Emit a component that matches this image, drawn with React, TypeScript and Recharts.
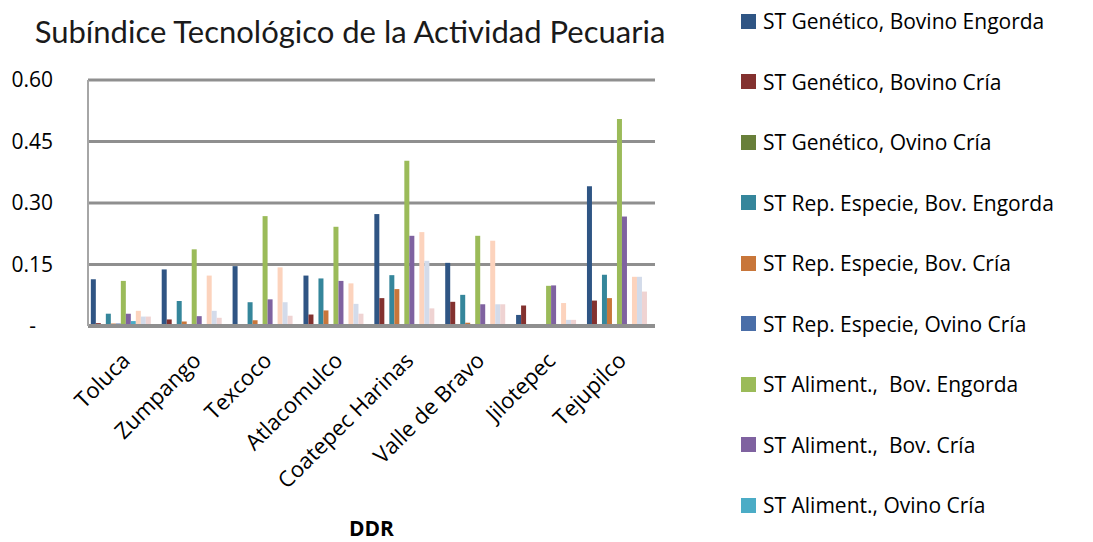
import React from 'react';
import {
    BarChart,
    Bar,
    XAxis,
    YAxis,
    CartesianGrid,
    Label,
} from 'recharts';

const categories = [
    'Toluca',
    'Zumpango',
    'Texcoco',
    'Atlacomulco',
    'Coatepec Harinas',
    'Valle de Bravo',
    'Jilotepec',
    'Tejupilco',
];

const genBovEngorda = [0.114, 0.138, 0.146, 0.123, 0.273, 0.154, 0.027, 0.341];
const genBovCria = [0.007, 0.016, 0.004, 0.028, 0.068, 0.059, 0.05, 0.062];
const genOviCria = [0.002, 0.002, 0.002, 0.002, 0.002, 0.002, 0.001, 0.002];
const repBovEngorda = [0.03, 0.061, 0.058, 0.116, 0.124, 0.076, 0.0, 0.125];
const repBovCria = [0.006, 0.011, 0.014, 0.038, 0.09, 0.008, 0.002, 0.068];
const repOviCria = [0.006, 0.002, 0.002, 0.002, 0.002, 0.002, 0.0, 0.002];
const alimBovEngorda = [0.11, 0.187, 0.268, 0.242, 0.403, 0.22, 0.098, 0.505];
const alimBovCria = [0.03, 0.024, 0.065, 0.11, 0.22, 0.053, 0.099, 0.267];
const alimOviCria = [0.012, 0.002, 0.002, 0.002, 0.002, 0.002, 0.0, 0.002];
const sanBovEngorda = [0.037, 0.123, 0.143, 0.104, 0.229, 0.208, 0.056, 0.12];
const sanBovCria = [0.023, 0.037, 0.058, 0.054, 0.159, 0.053, 0.015, 0.12];
const sanOviCria = [0.023, 0.02, 0.025, 0.03, 0.043, 0.053, 0.015, 0.084];

const yTicks = [0, 0.15, 0.3, 0.45, 0.6];

// name, values, colour, shown in the legend?
const series = [
    { key: 's1', name: 'ST Genético, Bovino Engorda', values: genBovEngorda, color: '#2f5584', legend: true },
    { key: 's2', name: 'ST Genético, Bovino Cría', values: genBovCria, color: '#83312f', legend: true },
    { key: 's3', name: 'ST Genético, Ovino Cría', values: genOviCria, color: '#687f3a', legend: true },
    { key: 's4', name: 'ST Rep. Especie, Bov. Engorda', values: repBovEngorda, color: '#35869b', legend: true },
    { key: 's5', name: 'ST Rep. Especie, Bov. Cría', values: repBovCria, color: '#c8763a', legend: true },
    { key: 's6', name: 'ST Rep. Especie, Ovino Cría', values: repOviCria, color: '#4a6ea8', legend: true },
    { key: 's7', name: 'ST Aliment.,  Bov. Engorda', values: alimBovEngorda, color: '#9bbb59', legend: true },
    { key: 's8', name: 'ST Aliment.,  Bov. Cría', values: alimBovCria, color: '#7f62a0', legend: true },
    { key: 's9', name: 'ST Aliment., Ovino Cría', values: alimOviCria, color: '#4bacc6', legend: true },
    { key: 's10', name: 'ST Sanidad, Bov. Engorda', values: sanBovEngorda, color: '#fcd3bd', legend: false },
    { key: 's11', name: 'ST Sanidad, Bov. Cría', values: sanBovCria, color: '#d3dbea', legend: false },
    { key: 's12', name: 'ST Sanidad, Ovino Cría', values: sanOviCria, color: '#efd3d2', legend: false },
];

const data = categories.map((c, i) => {
    const row: Record<string, string | number> = { ddr: c };
    series.forEach((s) => {
        row[s.key] = s.values[i];
    });
    return row;
});

const FONT = '"Open Sans", Lato, sans-serif';
const TITLE_FONT = 'Lato, "Open Sans", sans-serif';

const XTick = ({ x, y, payload }: any) => (
    <g transform={`translate(${x + 8},${y + 28})`}>
        <text
            x={0}
            y={0}
            textAnchor="end"
            transform="rotate(-45)"
            fontSize={22}
            fontFamily={FONT}
            fill="#000"
        >
            {payload.value}
        </text>
    </g>
);

const YTick = ({ x, y, payload }: any) => (
    <text
        x={payload.value === 0 ? x - 46 : x - 29}
        y={y}
        dy={7}
        textAnchor="end"
        fontSize={21}
        fontFamily={FONT}
        fill="#000"
    >
        {payload.value === 0 ? '-' : payload.value.toFixed(2)}
    </text>
);

export default function App() {
    return (
        <div
            style={{
                position: 'absolute',
                left: 0,
                top: 0,
                width: 1093,
                height: 542,
                background: '#fff',
                fontFamily: FONT,
            }}
        >
            <div
                style={{
                    position: 'absolute',
                    left: 0,
                    width: 700,
                    top: 12,
                    textAlign: 'center',
                    fontSize: 31,
                    fontFamily: TITLE_FONT,
                    fontWeight: 400,
                    color: '#1a1a1a',
                }}
            >
                Subíndice Tecnológico de la Actividad Pecuaria
            </div>
            <BarChart
                width={1093}
                height={542}
                data={data}
                margin={{ top: 80, right: 438, left: 20, bottom: 0 }}
                barCategoryGap="4%"
                barGap={0}
            >
                <CartesianGrid
                    vertical={false}
                    stroke="#8f8f8f"
                    strokeWidth={3}
                />
                <XAxis
                    dataKey="ddr"
                    interval={0}
                    height={216}
                    tickLine={false}
                    axisLine={{ stroke: '#8f8f8f', strokeWidth: 4 }}
                    tick={<XTick />}
                >
                    <Label
                        value="DDR"
                        position="insideBottom"
                        offset={6}
                        fontSize={21}
                        fontWeight="bold"
                        fontFamily={FONT}
                        fill="#000"
                    />
                </XAxis>
                <YAxis
                    domain={[0, 0.6]}
                    ticks={yTicks}
                    width={68}
                    tickLine={false}
                    tickMargin={0}
                    axisLine={{ stroke: '#a6a6a6', strokeWidth: 2 }}
                    tick={<YTick />}
                />
                {series.map((s) => (
                    <Bar
                        key={s.key}
                        dataKey={s.key}
                        name={s.name}
                        fill={s.color}
                        isAnimationActive={false}
                    />
                ))}
            </BarChart>
            <div style={{ position: 'absolute', left: 741, top: 0 }}>
                {series
                    .filter((s) => s.legend)
                    .map((s, i) => (
                        <div
                            key={s.key}
                            style={{
                                position: 'absolute',
                                top: 7 + i * 60.5,
                                left: 0,
                                height: 28,
                                display: 'flex',
                                alignItems: 'center',
                                whiteSpace: 'pre',
                                fontSize: 21,
                                color: '#000',
                            }}
                        >
                            <span
                                style={{
                                    display: 'inline-block',
                                    width: 15,
                                    height: 15,
                                    background: s.color,
                                    marginRight: 7,
                                }}
                            />
                            {s.name}
                        </div>
                    ))}
            </div>
        </div>
    );
}
